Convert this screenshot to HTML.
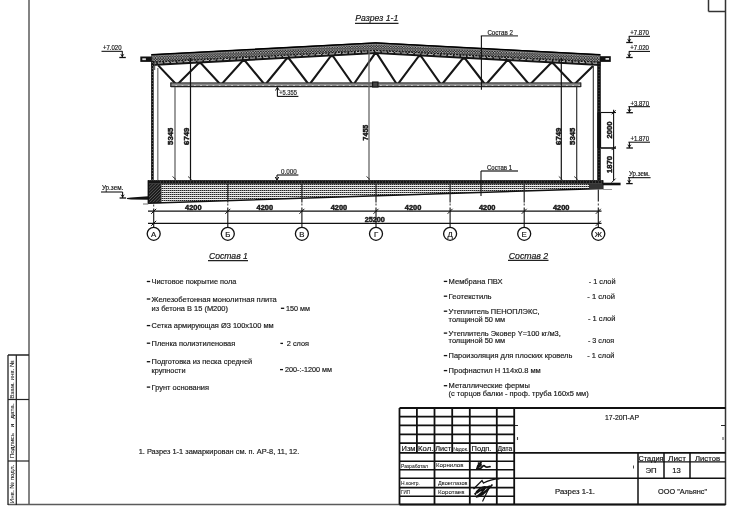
<!DOCTYPE html><html><head><meta charset="utf-8"><style>
html,body{margin:0;padding:0;background:#fff;width:731px;height:507px;overflow:hidden}
svg{display:block;will-change:transform}
text{font-family:"Liberation Sans",sans-serif;stroke:#1a1a1a;stroke-width:0.18px}
</style></head><body>
<svg width="731" height="507" viewBox="0 0 731 507">
<defs>
<pattern id="roofp" width="2.6" height="2.6" patternUnits="userSpaceOnUse"><rect width="2.6" height="2.6" fill="#1c1c1c"/><circle cx="0.8" cy="0.8" r="0.7" fill="#f0f0f0"/><circle cx="2.1" cy="2.1" r="0.55" fill="#bbb"/></pattern>
<pattern id="slabp" x="0" y="0" width="2" height="2" patternUnits="userSpaceOnUse"><rect width="2" height="2" fill="#f4f4f4"/><rect x="0" y="0" width="1" height="1" fill="#222"/><rect x="1" y="0" width="1" height="1" fill="#888"/><rect x="1" y="1" width="1" height="1" fill="#e6e6e6"/></pattern>
<pattern id="hatchp" width="2.2" height="2.2" patternUnits="userSpaceOnUse" patternTransform="rotate(45)"><rect width="2.2" height="2.2" fill="#1a1a1a"/><rect width="0.6" height="2.2" fill="#666"/></pattern>
<pattern id="chordp" width="6.2" height="4" patternUnits="userSpaceOnUse"><rect width="6.2" height="4" fill="#8a8a8a"/><rect x="2" y="1.2" width="1.3" height="1.3" fill="#eee"/></pattern>
</defs>
<rect width="731" height="507" fill="#fff"/>

<line x1="29.00" y1="0.00" x2="29.00" y2="504.50" stroke="#5a5a5a" stroke-width="1.5" />
<line x1="8.00" y1="504.50" x2="725.50" y2="504.50" stroke="#5a5a5a" stroke-width="1.6" />
<line x1="725.50" y1="0.00" x2="725.50" y2="505.00" stroke="#333" stroke-width="1.5" />
<line x1="708.50" y1="0.00" x2="708.50" y2="11.50" stroke="#333" stroke-width="1.5" />
<line x1="708.50" y1="11.50" x2="725.50" y2="11.50" stroke="#333" stroke-width="1.5" />
<line x1="8.00" y1="355.00" x2="29.00" y2="355.00" stroke="#222" stroke-width="1.5" />
<line x1="8.00" y1="355.00" x2="8.00" y2="505.00" stroke="#222" stroke-width="1.3" />
<line x1="16.30" y1="355.00" x2="16.30" y2="505.00" stroke="#222" stroke-width="1.2" />
<line x1="8.00" y1="399.50" x2="29.00" y2="399.50" stroke="#222" stroke-width="1.2" />
<line x1="8.00" y1="461.00" x2="29.00" y2="461.00" stroke="#222" stroke-width="1.2" />
<text transform="translate(11.80,379.50) rotate(-90)" x="0" y="0" font-size="6" text-anchor="middle" dominant-baseline="central" font-weight="normal" fill="#222" textLength="38.6" lengthAdjust="spacingAndGlyphs" style="stroke-width:0.08px">Взам. инв. №</text>
<text transform="translate(11.80,430.80) rotate(-90)" x="0" y="0" font-size="6" text-anchor="middle" dominant-baseline="central" font-weight="normal" fill="#222" textLength="55" lengthAdjust="spacingAndGlyphs" style="stroke-width:0.08px">Подпись&#160;&#160;&#160;и&#160;&#160;&#160;дата.</text>
<text transform="translate(11.80,484.00) rotate(-90)" x="0" y="0" font-size="6" text-anchor="middle" dominant-baseline="central" font-weight="normal" fill="#222" textLength="38.5" lengthAdjust="spacingAndGlyphs" style="stroke-width:0.08px">Инв. № подл.</text>
<line x1="399.50" y1="408.00" x2="725.50" y2="408.00" stroke="#111" stroke-width="2.0" />
<line x1="399.50" y1="416.60" x2="514.20" y2="416.60" stroke="#111" stroke-width="1.7" />
<line x1="399.50" y1="425.40" x2="514.20" y2="425.40" stroke="#111" stroke-width="1.7" />
<line x1="399.50" y1="434.30" x2="514.20" y2="434.30" stroke="#111" stroke-width="1.7" />
<line x1="399.50" y1="443.20" x2="514.20" y2="443.20" stroke="#111" stroke-width="1.7" />
<line x1="399.50" y1="452.90" x2="725.50" y2="452.90" stroke="#111" stroke-width="1.8" />
<line x1="399.50" y1="461.20" x2="514.20" y2="461.20" stroke="#111" stroke-width="1.6" />
<line x1="399.50" y1="469.80" x2="514.20" y2="469.80" stroke="#111" stroke-width="1.6" />
<line x1="399.50" y1="487.60" x2="514.20" y2="487.60" stroke="#111" stroke-width="1.6" />
<line x1="399.50" y1="496.20" x2="514.20" y2="496.20" stroke="#111" stroke-width="1.6" />
<line x1="399.50" y1="478.30" x2="725.50" y2="478.30" stroke="#111" stroke-width="1.5" />
<line x1="399.50" y1="408.00" x2="399.50" y2="504.50" stroke="#111" stroke-width="1.8" />
<line x1="434.50" y1="408.00" x2="434.50" y2="504.50" stroke="#111" stroke-width="1.8" />
<line x1="469.80" y1="408.00" x2="469.80" y2="504.50" stroke="#111" stroke-width="1.8" />
<line x1="496.80" y1="408.00" x2="496.80" y2="504.50" stroke="#111" stroke-width="1.8" />
<line x1="514.20" y1="408.00" x2="514.20" y2="504.50" stroke="#111" stroke-width="1.8" />
<line x1="416.90" y1="408.00" x2="416.90" y2="452.90" stroke="#111" stroke-width="1.8" />
<line x1="452.20" y1="408.00" x2="452.20" y2="452.90" stroke="#111" stroke-width="1.8" />
<line x1="638.00" y1="452.90" x2="638.00" y2="504.50" stroke="#111" stroke-width="1.5" />
<line x1="664.00" y1="452.90" x2="664.00" y2="478.30" stroke="#111" stroke-width="1.5" />
<line x1="690.00" y1="452.90" x2="690.00" y2="478.30" stroke="#111" stroke-width="1.5" />
<line x1="638.00" y1="461.80" x2="725.50" y2="461.80" stroke="#111" stroke-width="1.2" />
<line x1="514.00" y1="425.50" x2="518.00" y2="425.50" stroke="#111" stroke-width="0.9" />
<line x1="517.50" y1="437.00" x2="517.50" y2="440.00" stroke="#444" stroke-width="1.1" />
<line x1="721.00" y1="425.50" x2="725.00" y2="425.50" stroke="#111" stroke-width="0.9" />
<line x1="723.00" y1="437.00" x2="723.00" y2="440.00" stroke="#444" stroke-width="1.0" />
<line x1="633.50" y1="465.50" x2="633.50" y2="468.50" stroke="#444" stroke-width="1.0" />
<text x="401.50" y="451.30" font-size="7.6" text-anchor="start" font-weight="normal" font-style="normal" fill="#111" textLength="14" lengthAdjust="spacingAndGlyphs" >Изм</text>
<text x="418.00" y="451.30" font-size="7.6" text-anchor="start" font-weight="normal" font-style="normal" fill="#111" textLength="15.3" lengthAdjust="spacingAndGlyphs" >Кол.</text>
<text x="435.30" y="451.30" font-size="7.6" text-anchor="start" font-weight="normal" font-style="normal" fill="#111" textLength="15.8" lengthAdjust="spacingAndGlyphs" >Лист</text>
<text x="453.20" y="451.30" font-size="5.6" text-anchor="start" font-weight="normal" font-style="normal" fill="#111" textLength="15.2" lengthAdjust="spacingAndGlyphs" style="stroke-width:0.05px" >№док.</text>
<text x="471.60" y="451.30" font-size="7.6" text-anchor="start" font-weight="normal" font-style="normal" fill="#111" textLength="19.8" lengthAdjust="spacingAndGlyphs" >Подп.</text>
<text x="497.40" y="451.30" font-size="7.6" text-anchor="start" font-weight="normal" font-style="normal" fill="#111" textLength="14.8" lengthAdjust="spacingAndGlyphs" >Дата</text>
<text x="401.00" y="467.80" font-size="5.2" text-anchor="start" font-weight="normal" font-style="normal" fill="#111" textLength="27" lengthAdjust="spacingAndGlyphs" style="stroke-width:0.05px" >Разработал</text>
<text x="436.00" y="467.40" font-size="6" text-anchor="start" font-weight="normal" font-style="normal" fill="#111" textLength="27.5" lengthAdjust="spacingAndGlyphs" style="stroke-width:0.05px" >Корнилов</text>
<text x="401.00" y="485.20" font-size="5.8" text-anchor="start" font-weight="normal" font-style="normal" fill="#111" textLength="19" lengthAdjust="spacingAndGlyphs" style="stroke-width:0.05px" >Н.контр.</text>
<text x="438.00" y="484.90" font-size="6" text-anchor="start" font-weight="normal" font-style="normal" fill="#111" textLength="29.5" lengthAdjust="spacingAndGlyphs" style="stroke-width:0.05px" >Двоеглазов</text>
<text x="401.00" y="494.00" font-size="5.8" text-anchor="start" font-weight="normal" font-style="normal" fill="#111" textLength="9" lengthAdjust="spacingAndGlyphs" style="stroke-width:0.05px" >ГИП</text>
<text x="438.00" y="493.60" font-size="6" text-anchor="start" font-weight="normal" font-style="normal" fill="#111" textLength="26.5" lengthAdjust="spacingAndGlyphs" style="stroke-width:0.05px" >Коротаев</text>
<text x="622.00" y="420.00" font-size="7.8" text-anchor="middle" font-weight="normal" font-style="normal" fill="#111" textLength="34" lengthAdjust="spacingAndGlyphs" >17-20П-АР</text>
<text x="651.00" y="461.00" font-size="7" text-anchor="middle" font-weight="normal" font-style="normal" fill="#111" textLength="25" lengthAdjust="spacingAndGlyphs" >Стадия</text>
<text x="677.00" y="461.00" font-size="7" text-anchor="middle" font-weight="normal" font-style="normal" fill="#111" textLength="18" lengthAdjust="spacingAndGlyphs" >Лист</text>
<text x="707.50" y="461.00" font-size="7" text-anchor="middle" font-weight="normal" font-style="normal" fill="#111" textLength="25" lengthAdjust="spacingAndGlyphs" >Листов</text>
<text x="651.00" y="473.30" font-size="7.6" text-anchor="middle" font-weight="normal" font-style="normal" fill="#111" textLength="11.2" lengthAdjust="spacingAndGlyphs" >ЭП</text>
<text x="676.60" y="473.30" font-size="7.6" text-anchor="middle" font-weight="normal" font-style="normal" fill="#111" textLength="8.5" lengthAdjust="spacingAndGlyphs" >13</text>
<text x="575.00" y="494.20" font-size="7.8" text-anchor="middle" font-weight="normal" font-style="normal" fill="#111" textLength="40" lengthAdjust="spacingAndGlyphs" >Разрез 1-1.</text>
<text x="682.50" y="494.20" font-size="7.8" text-anchor="middle" font-weight="normal" font-style="normal" fill="#111" textLength="49" lengthAdjust="spacingAndGlyphs" >ООО "Альянс"</text>
<path d="M477 468.5 C477.5 466 479.5 463.5 481 462.5 M478.5 463.2 C481.5 462.8 482.3 465.8 478.2 466.6 M476.8 468.6 L480.8 468.2 C482.6 466.4 483.8 464.6 484.8 466.2 C485.8 468 487.8 467.2 490 466.6" stroke="#111" stroke-width="1.7" fill="none" stroke-linecap="round"/>
<path d="M473.5 489 L482 480.5 L483.5 483 C487 481 493 479 499.5 478.8" stroke="#111" stroke-width="1.3" fill="none"/>
<path d="M475 495 C477 489 483 486 486 487 C484 491 478 496 476 497 C481 497 488 490 492 485 M477 493 C482 488 487 487 490 486 M479 496 C484 493 489 488 492.5 484.5 M474.5 494 C478 491 482 490 484 489.5" stroke="#111" stroke-width="1.6" fill="none"/>
<path d="M489 488 L482.5 501.5" stroke="#111" stroke-width="1.2" fill="none"/>
<line x1="399.50" y1="504.60" x2="725.50" y2="504.60" stroke="#111" stroke-width="2.0" />
<text x="355.30" y="21.20" font-size="8.6" text-anchor="start" font-weight="normal" font-style="italic" fill="#111" textLength="43" lengthAdjust="spacingAndGlyphs" >Разрез 1-1</text>
<line x1="355.00" y1="23.30" x2="398.50" y2="23.30" stroke="#222" stroke-width="1.2" />
<polygon points="151.3,54.19 375.7,42.30 600.4,54.21 600.4,66.01 375.7,54.10 151.3,65.99" fill="#151515" />
<polygon points="151.3,56.19 375.7,44.30 600.4,56.21 600.4,61.61 375.7,49.70 151.3,61.59" fill="url(#roofp)" />
<polyline points="151.3,54.79 375.7,42.90 600.4,54.81" stroke="#000" stroke-width="1.5" fill="none" />
<polyline points="151.3,56.09 375.7,44.20 600.4,56.11" stroke="#bbb" stroke-width="0.6" fill="none" />
<polyline points="151.3,62.39 375.7,50.50 600.4,62.41" stroke="#ddd" stroke-width="0.8" fill="none" stroke-dasharray="1.2 2"/>
<polyline points="151.3,63.49 375.7,51.60 600.4,63.51" stroke="#e6e6e6" stroke-width="0.8" fill="none" stroke-dasharray="5 1.6"/>
<rect x="140.3" y="56.5" width="11.5" height="5.4" fill="#111"/>
<rect x="142.3" y="58.3" width="3.6" height="1.8" fill="#ddd"/>
<rect x="600" y="56.2" width="10.8" height="5.7" fill="#111"/>
<rect x="605.5" y="58" width="3.6" height="1.8" fill="#ddd"/>
<polyline points="158.20,65.40 176.80,85.00 198.60,63.22 201.00,63.22 220.90,85.00 242.62,60.89 245.02,60.89 265.00,85.00 286.64,58.56 289.04,58.56 309.10,85.00 330.66,56.22 333.06,56.22 353.20,85.00 374.68,53.91 377.08,53.91 397.30,85.00 418.70,56.24 421.10,56.24 441.40,85.00 462.72,58.58 465.12,58.58 485.50,85.00 506.74,60.91 509.14,60.91 529.60,85.00 550.76,63.24 553.16,63.24 573.70,85.00 593.00,66.00" stroke="#161616" stroke-width="2.1" fill="none" stroke-linejoin="miter"/>
<rect x="170.8" y="82.9" width="410" height="3.8" fill="url(#chordp)"/>
<line x1="170.80" y1="82.90" x2="580.80" y2="82.90" stroke="#222" stroke-width="1.0" />
<line x1="170.80" y1="86.70" x2="580.80" y2="86.70" stroke="#222" stroke-width="1.2" />
<line x1="170.80" y1="82.50" x2="170.80" y2="87.00" stroke="#222" stroke-width="1.2" />
<line x1="580.80" y1="82.50" x2="580.80" y2="87.00" stroke="#222" stroke-width="1.2" />
<rect x="372.6" y="82" width="5.4" height="5" fill="#444" stroke="#111" stroke-width="1.1"/>
<line x1="152.40" y1="61.00" x2="152.40" y2="180.50" stroke="#111" stroke-width="2.6" />
<line x1="152.40" y1="62.00" x2="152.40" y2="180.50" stroke="#ccc" stroke-width="0.8" stroke-dasharray="0.6 2.4"/>
<line x1="157.80" y1="68.00" x2="157.80" y2="180.50" stroke="#777" stroke-width="1.3" />
<line x1="154.70" y1="62.00" x2="154.70" y2="70.00" stroke="#444" stroke-width="1" />
<line x1="599.00" y1="62.00" x2="599.00" y2="180.50" stroke="#111" stroke-width="3.6" />
<line x1="599.00" y1="63.00" x2="599.00" y2="180.50" stroke="#888" stroke-width="0.8" stroke-dasharray="0.6 2.4"/>
<line x1="593.30" y1="66.00" x2="593.30" y2="180.50" stroke="#333" stroke-width="1.1" />
<rect x="597.4" y="112.5" width="3.7" height="35.5" fill="#111"/>
<line x1="175.00" y1="87.00" x2="175.00" y2="180.00" stroke="#666" stroke-width="1.3" />
<line x1="190.50" y1="58.00" x2="190.50" y2="180.00" stroke="#111" stroke-width="1.2" />
<line x1="369.00" y1="50.00" x2="369.00" y2="180.00" stroke="#666" stroke-width="1.3" />
<line x1="561.30" y1="58.00" x2="561.30" y2="180.00" stroke="#111" stroke-width="1.2" />
<line x1="576.70" y1="87.00" x2="576.70" y2="180.00" stroke="#333" stroke-width="1.2" />
<line x1="172.50" y1="176.50" x2="176.00" y2="179.50" stroke="#222" stroke-width="0.9" />
<line x1="188.00" y1="176.50" x2="191.50" y2="179.50" stroke="#222" stroke-width="0.9" />
<line x1="366.50" y1="176.50" x2="370.00" y2="179.50" stroke="#222" stroke-width="0.9" />
<line x1="558.80" y1="176.50" x2="562.30" y2="179.50" stroke="#222" stroke-width="0.9" />
<line x1="574.20" y1="176.50" x2="577.70" y2="179.50" stroke="#222" stroke-width="0.9" />
<text transform="translate(170.60,136.30) rotate(-90)" x="0" y="0" font-size="7.4" text-anchor="middle" dominant-baseline="central" font-weight="bold" fill="#111" textLength="17.3" lengthAdjust="spacingAndGlyphs" style="stroke-width:0.45px">5345</text>
<text transform="translate(186.80,136.30) rotate(-90)" x="0" y="0" font-size="7.4" text-anchor="middle" dominant-baseline="central" font-weight="bold" fill="#111" textLength="17.3" lengthAdjust="spacingAndGlyphs" style="stroke-width:0.45px">6749</text>
<text transform="translate(365.20,132.60) rotate(-90)" x="0" y="0" font-size="7.4" text-anchor="middle" dominant-baseline="central" font-weight="bold" fill="#111" textLength="15.7" lengthAdjust="spacingAndGlyphs" style="stroke-width:0.45px">7455</text>
<text transform="translate(558.00,136.30) rotate(-90)" x="0" y="0" font-size="7.4" text-anchor="middle" dominant-baseline="central" font-weight="bold" fill="#111" textLength="17.3" lengthAdjust="spacingAndGlyphs" style="stroke-width:0.45px">6749</text>
<text transform="translate(572.50,136.30) rotate(-90)" x="0" y="0" font-size="7.4" text-anchor="middle" dominant-baseline="central" font-weight="bold" fill="#111" textLength="17.3" lengthAdjust="spacingAndGlyphs" style="stroke-width:0.45px">5345</text>
<polygon points="148.3,180.3 602.8,180.3 602.8,188.5 148.3,203.2" fill="url(#slabp)"/>
<rect x="148.3" y="180.3" width="454.5" height="3.5" fill="#151515"/>
<line x1="160.00" y1="182.00" x2="602.00" y2="182.00" stroke="#888" stroke-width="0.6" stroke-dasharray="1 2"/>
<polygon points="148.3,183.8 161.4,183.8 161.4,203.2 148.3,203.2" fill="url(#hatchp)"/>
<polyline points="148.3,180.3 148.3,203.2 602.8,188.5 602.8,180.3" stroke="#111" stroke-width="1.4" fill="none"/>
<rect x="589" y="184" width="13.8" height="5" fill="#333"/>
<line x1="227.80" y1="184.00" x2="227.80" y2="202.50" stroke="#222" stroke-width="1.2" />
<line x1="301.90" y1="184.00" x2="301.90" y2="202.50" stroke="#222" stroke-width="1.2" />
<line x1="376.00" y1="184.00" x2="376.00" y2="202.50" stroke="#222" stroke-width="1.2" />
<line x1="450.10" y1="184.00" x2="450.10" y2="202.50" stroke="#222" stroke-width="1.2" />
<line x1="524.20" y1="184.00" x2="524.20" y2="202.50" stroke="#222" stroke-width="1.2" />
<polygon points="127,197.9 131,197.6 148.3,196.2 148.3,199.8 131,199.4 127,199.1" fill="#111"/>
<line x1="143.00" y1="204.00" x2="148.30" y2="204.00" stroke="#888" stroke-width="1.2" />
<line x1="602.80" y1="184.00" x2="620.60" y2="184.00" stroke="#111" stroke-width="2.6" />
<line x1="602.80" y1="189.50" x2="612.00" y2="189.50" stroke="#999" stroke-width="1.0" />
<text x="103.00" y="49.80" font-size="6.5" text-anchor="start" font-weight="normal" font-style="normal" fill="#111" textLength="18.5" lengthAdjust="spacingAndGlyphs" >+7.020</text>
<line x1="101.50" y1="51.30" x2="122.50" y2="51.30" stroke="#000" stroke-width="1.0" />
<line x1="122.30" y1="51.30" x2="122.30" y2="57.50" stroke="#111" stroke-width="1.1" />
<line x1="119.30" y1="57.50" x2="125.80" y2="57.50" stroke="#111" stroke-width="1.3" />
<polygon points="120.10,53.70 122.30,57.20 124.50,53.70 122.30,54.90" fill="#111"/>
<text x="101.90" y="190.20" font-size="6.5" text-anchor="start" font-weight="normal" font-style="normal" fill="#111" textLength="21.4" lengthAdjust="spacingAndGlyphs" >Ур.зем.</text>
<line x1="101.00" y1="192.00" x2="122.60" y2="192.00" stroke="#000" stroke-width="1.0" />
<line x1="122.60" y1="192.00" x2="122.60" y2="198.00" stroke="#111" stroke-width="1.1" />
<line x1="119.60" y1="198.00" x2="126.10" y2="198.00" stroke="#111" stroke-width="1.3" />
<polygon points="120.40,194.20 122.60,197.70 124.80,194.20 122.60,195.40" fill="#111"/>
<text x="630.20" y="35.30" font-size="6.5" text-anchor="start" font-weight="normal" font-style="normal" fill="#111" textLength="18.8" lengthAdjust="spacingAndGlyphs" >+7.870</text>
<line x1="628.80" y1="36.30" x2="650.00" y2="36.30" stroke="#000" stroke-width="1.0" />
<line x1="629.20" y1="36.30" x2="629.20" y2="42.50" stroke="#111" stroke-width="1.1" />
<line x1="626.20" y1="42.50" x2="632.70" y2="42.50" stroke="#111" stroke-width="1.3" />
<polygon points="627.00,38.70 629.20,42.20 631.40,38.70 629.20,39.90" fill="#111"/>
<text x="630.20" y="50.10" font-size="6.5" text-anchor="start" font-weight="normal" font-style="normal" fill="#111" textLength="18.8" lengthAdjust="spacingAndGlyphs" >+7.020</text>
<line x1="628.80" y1="51.40" x2="650.00" y2="51.40" stroke="#000" stroke-width="1.0" />
<line x1="629.20" y1="51.40" x2="629.20" y2="57.50" stroke="#111" stroke-width="1.1" />
<line x1="626.20" y1="57.50" x2="632.70" y2="57.50" stroke="#111" stroke-width="1.3" />
<polygon points="627.00,53.70 629.20,57.20 631.40,53.70 629.20,54.90" fill="#111"/>
<text x="630.40" y="105.80" font-size="6.5" text-anchor="start" font-weight="normal" font-style="normal" fill="#111" textLength="18.6" lengthAdjust="spacingAndGlyphs" >+3.870</text>
<line x1="628.40" y1="106.70" x2="650.00" y2="106.70" stroke="#000" stroke-width="1.0" />
<line x1="629.40" y1="106.70" x2="629.40" y2="112.70" stroke="#111" stroke-width="1.1" />
<line x1="626.40" y1="112.70" x2="632.90" y2="112.70" stroke="#111" stroke-width="1.3" />
<polygon points="627.20,108.90 629.40,112.40 631.60,108.90 629.40,110.10" fill="#111"/>
<text x="630.40" y="141.20" font-size="6.5" text-anchor="start" font-weight="normal" font-style="normal" fill="#111" textLength="18.6" lengthAdjust="spacingAndGlyphs" >+1.870</text>
<line x1="628.40" y1="142.20" x2="650.00" y2="142.20" stroke="#000" stroke-width="1.0" />
<line x1="629.40" y1="142.20" x2="629.40" y2="148.00" stroke="#111" stroke-width="1.1" />
<line x1="626.40" y1="148.00" x2="632.90" y2="148.00" stroke="#111" stroke-width="1.3" />
<polygon points="627.20,144.20 629.40,147.70 631.60,144.20 629.40,145.40" fill="#111"/>
<text x="629.00" y="175.70" font-size="6.5" text-anchor="start" font-weight="normal" font-style="normal" fill="#111" textLength="20.7" lengthAdjust="spacingAndGlyphs" >Ур.зем.</text>
<line x1="628.00" y1="177.70" x2="650.60" y2="177.70" stroke="#000" stroke-width="1.0" />
<line x1="629.20" y1="177.70" x2="629.20" y2="183.60" stroke="#111" stroke-width="1.1" />
<line x1="626.20" y1="183.60" x2="632.70" y2="183.60" stroke="#111" stroke-width="1.3" />
<polygon points="627.00,179.80 629.20,183.30 631.40,179.80 629.20,181.00" fill="#111"/>
<text x="279.20" y="95.00" font-size="6.3" text-anchor="start" font-weight="normal" font-style="normal" fill="#333" textLength="17.8" lengthAdjust="spacingAndGlyphs" >+5.355</text>
<line x1="277.40" y1="87.50" x2="277.40" y2="96.40" stroke="#111" stroke-width="1.1" />
<line x1="277.40" y1="96.40" x2="298.40" y2="96.40" stroke="#111" stroke-width="1.1" />
<polyline points="275.5,90.5 277.4,87.2 279.3,90.5" stroke="#111" stroke-width="1" fill="none"/>
<text x="281.00" y="174.20" font-size="6.3" text-anchor="start" font-weight="normal" font-style="normal" fill="#333" textLength="15.8" lengthAdjust="spacingAndGlyphs" >0.000</text>
<line x1="277.00" y1="175.00" x2="298.40" y2="175.00" stroke="#111" stroke-width="1.1" />
<line x1="277.00" y1="175.00" x2="277.00" y2="180.00" stroke="#111" stroke-width="1.1" />
<polyline points="275.2,177 277,180 278.8,177" stroke="#111" stroke-width="1" fill="none"/>
<line x1="613.60" y1="109.70" x2="613.60" y2="180.60" stroke="#111" stroke-width="1.1" />
<line x1="601.00" y1="112.50" x2="616.00" y2="112.50" stroke="#111" stroke-width="1.1" />
<line x1="601.00" y1="148.00" x2="616.00" y2="148.00" stroke="#111" stroke-width="1.6" />
<line x1="611.60" y1="114.30" x2="615.60" y2="110.30" stroke="#111" stroke-width="1.0" />
<line x1="611.60" y1="150.10" x2="615.60" y2="146.10" stroke="#111" stroke-width="1.0" />
<line x1="611.60" y1="182.60" x2="615.60" y2="178.60" stroke="#111" stroke-width="1.0" />
<text transform="translate(609.70,129.90) rotate(-90)" x="0" y="0" font-size="7.4" text-anchor="middle" dominant-baseline="central" font-weight="bold" fill="#111" textLength="17" lengthAdjust="spacingAndGlyphs" style="stroke-width:0.45px">2000</text>
<text transform="translate(609.70,164.40) rotate(-90)" x="0" y="0" font-size="7.4" text-anchor="middle" dominant-baseline="central" font-weight="bold" fill="#111" textLength="17" lengthAdjust="spacingAndGlyphs" style="stroke-width:0.45px">1870</text>
<text x="487.40" y="34.80" font-size="6.3" text-anchor="start" font-weight="normal" font-style="normal" fill="#222" textLength="25.6" lengthAdjust="spacingAndGlyphs" >Состав 2</text>
<line x1="480.80" y1="35.90" x2="518.00" y2="35.90" stroke="#444" stroke-width="1.3" />
<line x1="481.40" y1="35.90" x2="481.40" y2="89.70" stroke="#111" stroke-width="1.1" />
<text x="487.00" y="169.60" font-size="6.3" text-anchor="start" font-weight="normal" font-style="normal" fill="#222" textLength="25" lengthAdjust="spacingAndGlyphs" >Состав 1</text>
<line x1="481.00" y1="171.00" x2="518.00" y2="171.00" stroke="#444" stroke-width="1.3" />
<line x1="481.00" y1="171.00" x2="481.00" y2="196.00" stroke="#111" stroke-width="1.1" />
<line x1="148.00" y1="211.10" x2="601.50" y2="211.10" stroke="#111" stroke-width="1.2" />
<line x1="148.00" y1="223.30" x2="601.50" y2="223.30" stroke="#111" stroke-width="1.2" />
<line x1="153.70" y1="204.50" x2="153.70" y2="206.50" stroke="#333" stroke-width="1.0" />
<line x1="153.70" y1="208.50" x2="153.70" y2="227.00" stroke="#111" stroke-width="1.1" />
<circle cx="153.70" cy="233.8" r="6.5" fill="#fff" stroke="#111" stroke-width="1.3"/>
<line x1="151.20" y1="213.80" x2="156.20" y2="208.80" stroke="#111" stroke-width="1.0" />
<line x1="151.20" y1="225.80" x2="156.20" y2="220.80" stroke="#111" stroke-width="1.0" />
<line x1="227.80" y1="203.50" x2="227.80" y2="205.50" stroke="#333" stroke-width="1.0" />
<line x1="227.80" y1="207.50" x2="227.80" y2="227.00" stroke="#111" stroke-width="1.1" />
<circle cx="227.80" cy="233.8" r="6.5" fill="#fff" stroke="#111" stroke-width="1.3"/>
<line x1="225.30" y1="213.80" x2="230.30" y2="208.80" stroke="#111" stroke-width="1.0" />
<line x1="301.90" y1="203.50" x2="301.90" y2="205.50" stroke="#333" stroke-width="1.0" />
<line x1="301.90" y1="207.50" x2="301.90" y2="227.00" stroke="#111" stroke-width="1.1" />
<circle cx="301.90" cy="233.8" r="6.5" fill="#fff" stroke="#111" stroke-width="1.3"/>
<line x1="299.40" y1="213.80" x2="304.40" y2="208.80" stroke="#111" stroke-width="1.0" />
<line x1="376.00" y1="203.50" x2="376.00" y2="205.50" stroke="#333" stroke-width="1.0" />
<line x1="376.00" y1="207.50" x2="376.00" y2="227.00" stroke="#111" stroke-width="1.1" />
<circle cx="376.00" cy="233.8" r="6.5" fill="#fff" stroke="#111" stroke-width="1.3"/>
<line x1="373.50" y1="213.80" x2="378.50" y2="208.80" stroke="#111" stroke-width="1.0" />
<line x1="450.10" y1="203.50" x2="450.10" y2="205.50" stroke="#333" stroke-width="1.0" />
<line x1="450.10" y1="207.50" x2="450.10" y2="227.00" stroke="#111" stroke-width="1.1" />
<circle cx="450.10" cy="233.8" r="6.5" fill="#fff" stroke="#111" stroke-width="1.3"/>
<line x1="447.60" y1="213.80" x2="452.60" y2="208.80" stroke="#111" stroke-width="1.0" />
<line x1="524.20" y1="203.50" x2="524.20" y2="205.50" stroke="#333" stroke-width="1.0" />
<line x1="524.20" y1="207.50" x2="524.20" y2="227.00" stroke="#111" stroke-width="1.1" />
<circle cx="524.20" cy="233.8" r="6.5" fill="#fff" stroke="#111" stroke-width="1.3"/>
<line x1="521.70" y1="213.80" x2="526.70" y2="208.80" stroke="#111" stroke-width="1.0" />
<line x1="598.30" y1="189.50" x2="598.30" y2="201.50" stroke="#111" stroke-width="1.1" />
<line x1="598.30" y1="203.50" x2="598.30" y2="205.50" stroke="#333" stroke-width="1.0" />
<line x1="598.30" y1="207.50" x2="598.30" y2="227.00" stroke="#111" stroke-width="1.1" />
<circle cx="598.30" cy="233.8" r="6.5" fill="#fff" stroke="#111" stroke-width="1.3"/>
<line x1="595.80" y1="213.80" x2="600.80" y2="208.80" stroke="#111" stroke-width="1.0" />
<line x1="595.80" y1="225.80" x2="600.80" y2="220.80" stroke="#111" stroke-width="1.0" />
<text x="153.70" y="236.80" font-size="7.8" text-anchor="middle" font-weight="normal" font-style="normal" fill="#111" >А</text>
<text x="227.80" y="236.80" font-size="7.8" text-anchor="middle" font-weight="normal" font-style="normal" fill="#111" >Б</text>
<text x="301.90" y="236.80" font-size="7.8" text-anchor="middle" font-weight="normal" font-style="normal" fill="#111" >В</text>
<text x="376.00" y="236.80" font-size="7.8" text-anchor="middle" font-weight="normal" font-style="normal" fill="#111" >Г</text>
<text x="450.10" y="236.80" font-size="7.8" text-anchor="middle" font-weight="normal" font-style="normal" fill="#111" >Д</text>
<text x="524.20" y="236.80" font-size="7.8" text-anchor="middle" font-weight="normal" font-style="normal" fill="#111" >Е</text>
<text x="598.30" y="236.80" font-size="7.8" text-anchor="middle" font-weight="normal" font-style="normal" fill="#111" >Ж</text>
<text x="193.35" y="210.00" font-size="7.4" text-anchor="middle" font-weight="bold" font-style="normal" fill="#111" textLength="16.5" lengthAdjust="spacingAndGlyphs" style="stroke-width:0.45px" >4200</text>
<text x="264.85" y="210.00" font-size="7.4" text-anchor="middle" font-weight="bold" font-style="normal" fill="#111" textLength="16.5" lengthAdjust="spacingAndGlyphs" style="stroke-width:0.45px" >4200</text>
<text x="338.95" y="210.00" font-size="7.4" text-anchor="middle" font-weight="bold" font-style="normal" fill="#111" textLength="16.5" lengthAdjust="spacingAndGlyphs" style="stroke-width:0.45px" >4200</text>
<text x="413.05" y="210.00" font-size="7.4" text-anchor="middle" font-weight="bold" font-style="normal" fill="#111" textLength="16.5" lengthAdjust="spacingAndGlyphs" style="stroke-width:0.45px" >4200</text>
<text x="487.15" y="210.00" font-size="7.4" text-anchor="middle" font-weight="bold" font-style="normal" fill="#111" textLength="16.5" lengthAdjust="spacingAndGlyphs" style="stroke-width:0.45px" >4200</text>
<text x="561.25" y="210.00" font-size="7.4" text-anchor="middle" font-weight="bold" font-style="normal" fill="#111" textLength="16.5" lengthAdjust="spacingAndGlyphs" style="stroke-width:0.45px" >4200</text>
<text x="374.80" y="221.80" font-size="7.4" text-anchor="middle" font-weight="bold" font-style="normal" fill="#111" textLength="20.3" lengthAdjust="spacingAndGlyphs" style="stroke-width:0.45px" >25200</text>
<text x="209.00" y="258.60" font-size="9.2" text-anchor="start" font-weight="normal" font-style="italic" fill="#111" textLength="38.8" lengthAdjust="spacingAndGlyphs" >Состав 1</text>
<line x1="208.00" y1="260.60" x2="248.00" y2="260.60" stroke="#222" stroke-width="1.1" />
<text x="508.80" y="258.60" font-size="9.2" text-anchor="start" font-weight="normal" font-style="italic" fill="#111" textLength="39.4" lengthAdjust="spacingAndGlyphs" >Состав 2</text>
<line x1="508.00" y1="260.40" x2="548.50" y2="260.40" stroke="#222" stroke-width="1.1" />
<line x1="146.80" y1="281.50" x2="150.20" y2="281.50" stroke="#111" stroke-width="1.3" />
<text x="151.60" y="284.25" font-size="7.5" text-anchor="start" font-weight="normal" font-style="normal" fill="#1a1a1a" textLength="84.8" lengthAdjust="spacingAndGlyphs" >Чистовое покрытие пола</text>
<line x1="146.80" y1="299.00" x2="150.20" y2="299.00" stroke="#111" stroke-width="1.3" />
<text x="151.60" y="301.75" font-size="7.5" text-anchor="start" font-weight="normal" font-style="normal" fill="#1a1a1a" textLength="125.2" lengthAdjust="spacingAndGlyphs" >Железобетонная  монолитная плита</text>
<text x="151.50" y="311.35" font-size="7.5" text-anchor="start" font-weight="normal" font-style="normal" fill="#1a1a1a" textLength="76.5" lengthAdjust="spacingAndGlyphs" >из бетона В 15 (М200)</text>
<line x1="280.90" y1="308.30" x2="284.20" y2="308.30" stroke="#111" stroke-width="1.3" />
<text x="285.90" y="311.05" font-size="7.5" text-anchor="start" font-weight="normal" font-style="normal" fill="#1a1a1a" textLength="24" lengthAdjust="spacingAndGlyphs" >150 мм</text>
<line x1="146.80" y1="325.60" x2="150.20" y2="325.60" stroke="#111" stroke-width="1.3" />
<text x="151.60" y="328.35" font-size="7.5" text-anchor="start" font-weight="normal" font-style="normal" fill="#1a1a1a" textLength="122" lengthAdjust="spacingAndGlyphs" >Сетка армирующая Ø3 100х100 мм</text>
<line x1="146.80" y1="343.20" x2="150.20" y2="343.20" stroke="#111" stroke-width="1.3" />
<text x="151.60" y="345.95" font-size="7.5" text-anchor="start" font-weight="normal" font-style="normal" fill="#1a1a1a" textLength="83.6" lengthAdjust="spacingAndGlyphs" >Пленка полиэтиленовая</text>
<line x1="280.40" y1="343.40" x2="283.00" y2="343.40" stroke="#111" stroke-width="1.3" />
<text x="286.80" y="346.15" font-size="7.5" text-anchor="start" font-weight="normal" font-style="normal" fill="#1a1a1a" textLength="22.1" lengthAdjust="spacingAndGlyphs" >2 слоя</text>
<line x1="146.80" y1="361.70" x2="150.20" y2="361.70" stroke="#111" stroke-width="1.3" />
<text x="151.60" y="364.45" font-size="7.5" text-anchor="start" font-weight="normal" font-style="normal" fill="#1a1a1a" textLength="100.6" lengthAdjust="spacingAndGlyphs" >Подготовка из песка средней</text>
<text x="151.50" y="372.65" font-size="7.5" text-anchor="start" font-weight="normal" font-style="normal" fill="#1a1a1a" textLength="34" lengthAdjust="spacingAndGlyphs" >крупности</text>
<line x1="280.00" y1="369.60" x2="283.00" y2="369.60" stroke="#111" stroke-width="1.3" />
<text x="285.00" y="372.35" font-size="7.5" text-anchor="start" font-weight="normal" font-style="normal" fill="#1a1a1a" textLength="47" lengthAdjust="spacingAndGlyphs" >200-:-1200 мм</text>
<line x1="146.80" y1="387.10" x2="150.20" y2="387.10" stroke="#111" stroke-width="1.3" />
<text x="151.60" y="389.85" font-size="7.5" text-anchor="start" font-weight="normal" font-style="normal" fill="#1a1a1a" textLength="57.4" lengthAdjust="spacingAndGlyphs" >Грунт основания</text>
<line x1="443.80" y1="281.40" x2="447.20" y2="281.40" stroke="#111" stroke-width="1.3" />
<text x="448.60" y="284.15" font-size="7.5" text-anchor="start" font-weight="normal" font-style="normal" fill="#1a1a1a" textLength="54" lengthAdjust="spacingAndGlyphs" >Мембрана ПВХ</text>
<text x="588.70" y="284.15" font-size="7.5" text-anchor="start" font-weight="normal" font-style="normal" fill="#1a1a1a" textLength="26.799999999999955" lengthAdjust="spacingAndGlyphs" >- 1 слой</text>
<line x1="443.80" y1="296.20" x2="447.20" y2="296.20" stroke="#111" stroke-width="1.3" />
<text x="448.60" y="298.95" font-size="7.5" text-anchor="start" font-weight="normal" font-style="normal" fill="#1a1a1a" textLength="43" lengthAdjust="spacingAndGlyphs" >Геотекстиль</text>
<text x="587.30" y="298.95" font-size="7.5" text-anchor="start" font-weight="normal" font-style="normal" fill="#1a1a1a" textLength="27.700000000000045" lengthAdjust="spacingAndGlyphs" >- 1 слой</text>
<line x1="443.80" y1="311.20" x2="447.20" y2="311.20" stroke="#111" stroke-width="1.3" />
<text x="448.60" y="313.95" font-size="7.5" text-anchor="start" font-weight="normal" font-style="normal" fill="#1a1a1a" textLength="91" lengthAdjust="spacingAndGlyphs" >Утеплитель ПЕНОПЛЭКС,</text>
<text x="448.60" y="321.65" font-size="7.5" text-anchor="start" font-weight="normal" font-style="normal" fill="#1a1a1a" textLength="56.6" lengthAdjust="spacingAndGlyphs" >толщиной 50 мм</text>
<text x="588.00" y="321.05" font-size="7.5" text-anchor="start" font-weight="normal" font-style="normal" fill="#1a1a1a" textLength="27.5" lengthAdjust="spacingAndGlyphs" >- 1 слой</text>
<line x1="443.80" y1="333.10" x2="447.20" y2="333.10" stroke="#111" stroke-width="1.3" />
<text x="448.60" y="335.85" font-size="7.5" text-anchor="start" font-weight="normal" font-style="normal" fill="#1a1a1a" textLength="112.2" lengthAdjust="spacingAndGlyphs" >Утеплитель Эковер Y=100 кг/м3,</text>
<text x="448.60" y="343.25" font-size="7.5" text-anchor="start" font-weight="normal" font-style="normal" fill="#1a1a1a" textLength="56.6" lengthAdjust="spacingAndGlyphs" >толщиной 50 мм</text>
<text x="588.00" y="343.25" font-size="7.5" text-anchor="start" font-weight="normal" font-style="normal" fill="#1a1a1a" textLength="26" lengthAdjust="spacingAndGlyphs" >- 3 слоя</text>
<line x1="443.80" y1="355.60" x2="447.20" y2="355.60" stroke="#111" stroke-width="1.3" />
<text x="448.60" y="358.35" font-size="7.5" text-anchor="start" font-weight="normal" font-style="normal" fill="#1a1a1a" textLength="123.7" lengthAdjust="spacingAndGlyphs" >Пароизоляция для плоских кровель</text>
<text x="587.30" y="358.35" font-size="7.5" text-anchor="start" font-weight="normal" font-style="normal" fill="#1a1a1a" textLength="27.200000000000045" lengthAdjust="spacingAndGlyphs" >- 1 слой</text>
<line x1="443.80" y1="370.60" x2="447.20" y2="370.60" stroke="#111" stroke-width="1.3" />
<text x="448.60" y="373.35" font-size="7.5" text-anchor="start" font-weight="normal" font-style="normal" fill="#1a1a1a" textLength="92.2" lengthAdjust="spacingAndGlyphs" >Профнастил Н 114х0.8 мм</text>
<line x1="443.80" y1="385.70" x2="447.20" y2="385.70" stroke="#111" stroke-width="1.3" />
<text x="448.60" y="388.45" font-size="7.5" text-anchor="start" font-weight="normal" font-style="normal" fill="#1a1a1a" textLength="81.3" lengthAdjust="spacingAndGlyphs" >Металлические фермы</text>
<text x="448.60" y="396.05" font-size="7.5" text-anchor="start" font-weight="normal" font-style="normal" fill="#1a1a1a" textLength="140.1" lengthAdjust="spacingAndGlyphs" >(с торцов балки - проф. труба 160х5 мм)</text>
<text x="138.70" y="454.20" font-size="7.5" text-anchor="start" font-weight="normal" font-style="normal" fill="#1a1a1a" textLength="160.6" lengthAdjust="spacingAndGlyphs" >1. Разрез 1-1 замаркирован см. п. АР-8, 11, 12.</text>
</svg></body></html>
